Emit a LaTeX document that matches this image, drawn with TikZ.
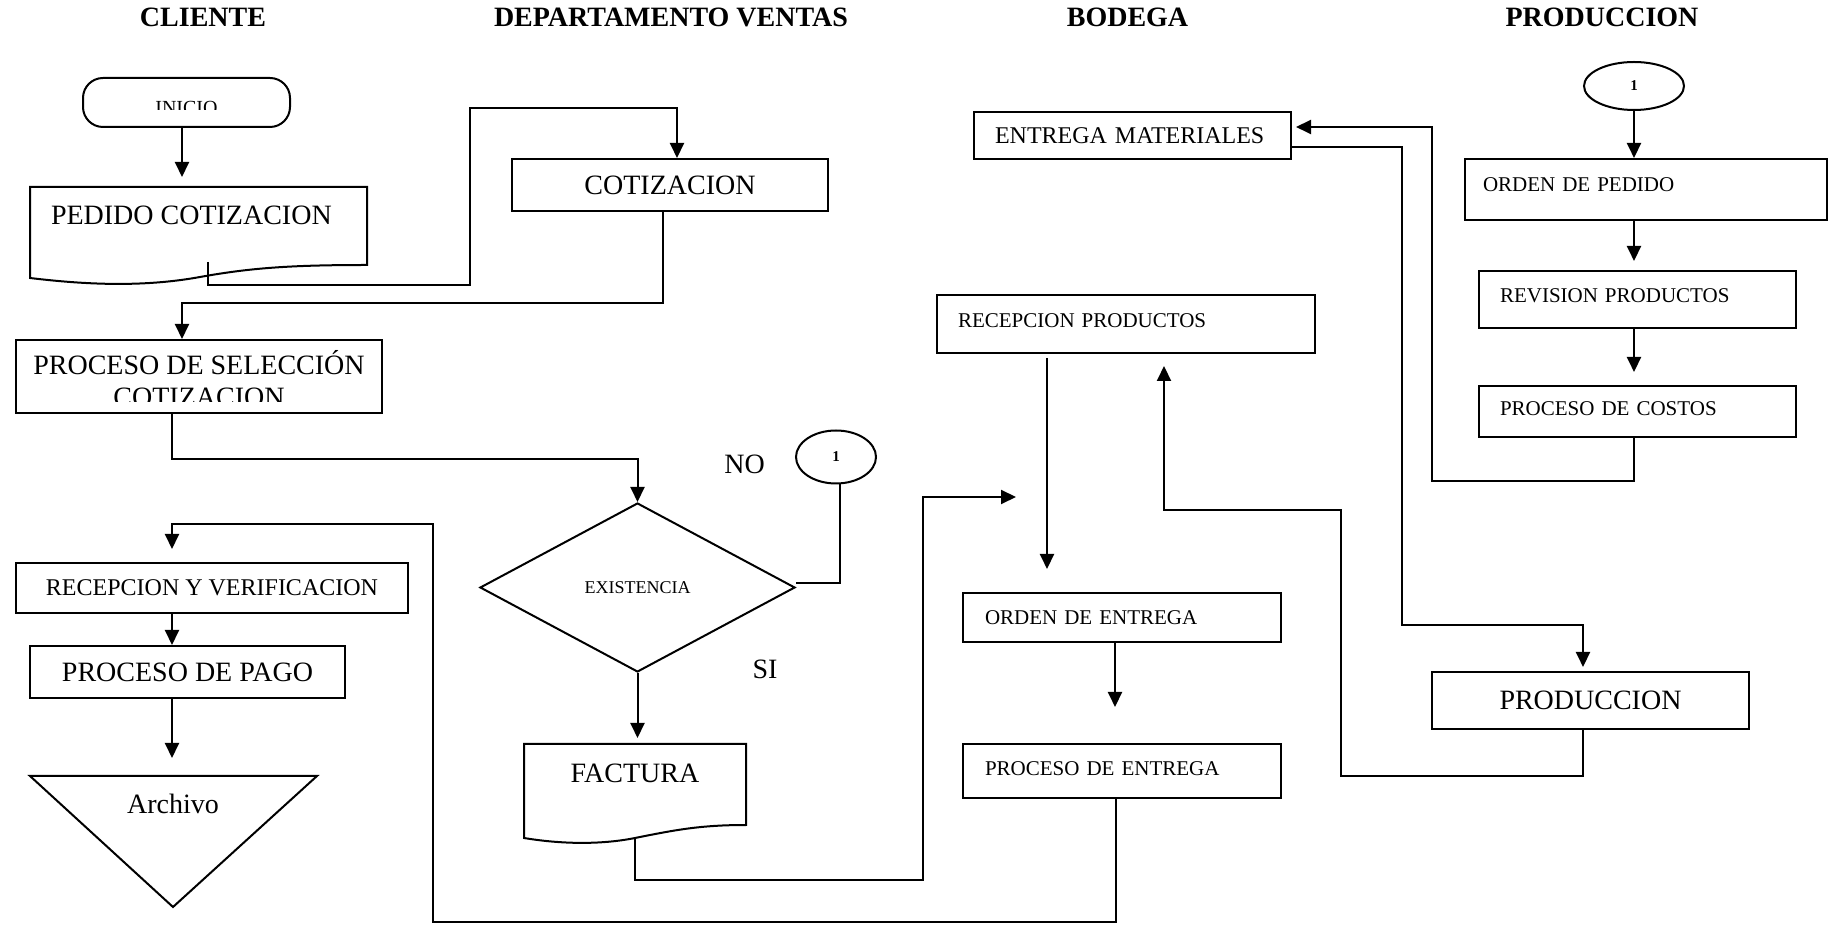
\documentclass[tikz,border=0pt]{standalone}
\usepackage{fontspec}
\setmainfont{Liberation Serif}
\usetikzlibrary{arrows.meta,shapes.geometric}

\begin{document}
\begin{tikzpicture}[x=0.5pt,y=-0.5pt,>={Triangle[width=7pt,length=7.5pt]},line width=1pt,
    lane/.style={font=\bfseries\fontsize{14}{16}\selectfont},
    box/.style={draw,rectangle,inner sep=0pt,font=\fontsize{14}{16}\selectfont},
    lbox/.style={draw,rectangle,inner xsep=10.5pt,inner ysep=0pt,align=left,font=\fontsize{10.5}{12}\selectfont},
    conn/.style={draw,ellipse,inner sep=0pt,font=\bfseries\fontsize{7.5}{9}\selectfont},
    big/.style={font=\fontsize{14}{16}\selectfont}]
    \useasboundingbox (0,0) rectangle (1831,929);

    % columnas
    \node[lane] (cliente)   at (203,17)    {CLIENTE};
    \node[lane] (ventas)    at (671,17)    {DEPARTAMENTO VENTAS};
    \node[lane] (bodega)    at (1127.5,17) {BODEGA};
    \node[lane] (prodlane)  at (1602,17)   {PRODUCCION};

    % cliente
    \node[draw,rectangle,rounded corners=10pt,minimum width=103.5pt,minimum height=24.5pt] (inicio) at (186.5,102.5) {};
    \begin{scope}
        \clip (83,78) rectangle (290,110);
        \node[anchor=base,font=\fontsize{10}{12}\selectfont] (iniciotxt) at (186.5,115) {INICIO};
    \end{scope}

    \draw (30,187) -- (367,187) -- (367,265) .. controls (290,265) and (250,268) .. (200,277)
        .. controls (140,288) and (80,284) .. (30,278) -- cycle;
    \node[big,anchor=west,inner sep=0pt] (pedido) at (50,215) {PEDIDO COTIZACION};
    \coordinate (pedin) at (182,187);
    \coordinate (pedout) at (208,262);

    \node[box,minimum width=183pt,minimum height=36.5pt] (seleccion) at (199,376.5) {};
    \begin{scope}
        \clip (16,340) rectangle (382,402);
        \node[big,anchor=base] (sel1) at (199,375) {PROCESO DE SELECCIÓN};
        \node[big,anchor=base] (sel2) at (199,406.5) {COTIZACION};
    \end{scope}

    \node[box,minimum width=196pt,minimum height=25pt,font=\fontsize{12}{14}\selectfont] (recver) at (212,588) {RECEPCION Y VERIFICACION};
    \node[box,minimum width=157.5pt,minimum height=26pt] (pago) at (187.5,672) {PROCESO DE PAGO};
    \draw (30,776) -- (317,776) -- (173,907) -- cycle;
    \node[big] (archivo) at (173,804) {Archivo};
    \coordinate (archtop) at (172,776);

    % ventas
    \node[box,minimum width=158pt,minimum height=26pt] (cotiz) at (670,185) {COTIZACION};
    \node[draw,diamond,inner sep=0pt,minimum width=157.5pt,minimum height=84.5pt,font=\fontsize{9}{11}\selectfont] (dia) at (637.5,587.5) {EXISTENCIA};
    \node[conn,minimum width=40pt,minimum height=26.5pt] (c1) at (836,457) {1};
    \node[big] (no) at (744.5,464) {NO};
    \node[big] (si) at (765,669) {SI};

    \draw (524,744) -- (746,744) -- (746,825) .. controls (700,825) and (675,830) .. (635,838)
        .. controls (600,845) and (560,844) .. (524,838) -- cycle;
    \node[big] (factura) at (635,773) {FACTURA};
    \coordinate (facin) at (635,744);
    \coordinate (facout) at (635,838);

    % bodega
    \node[lbox,minimum width=158.5pt,minimum height=23.5pt,text width=137.5pt,font=\fontsize{12}{14}\selectfont] (entmat) at (1132.5,135.5) {ENTREGA MATERIALES};
    \node[lbox,minimum width=189pt,minimum height=29pt,text width=168pt,text depth=3.5pt] (recprod) at (1126,324) {RECEPCION PRODUCTOS};
    \node[lbox,inner xsep=11pt,minimum width=159pt,minimum height=24.5pt,text width=137pt] (ordent) at (1122,617.5) {ORDEN DE ENTREGA};
    \node[lbox,inner xsep=11pt,minimum width=159pt,minimum height=27pt,text width=137pt,text depth=2pt] (procent) at (1122,771) {PROCESO DE ENTREGA};
    \coordinate (bodin) at (1016,497);

    % produccion
    \node[conn,minimum width=50pt,minimum height=24pt] (c2) at (1634,86) {1};
    \node[lbox,inner xsep=9pt,minimum width=181pt,minimum height=30.5pt,text width=163pt,text depth=5pt] (ordped) at (1646,189.5) {ORDEN DE PEDIDO};
    \node[lbox,minimum width=158.5pt,minimum height=28.5pt,text width=137.5pt,text depth=3.5pt] (revprod) at (1637.5,299.5) {REVISION PRODUCTOS};
    \node[lbox,minimum width=158.5pt,minimum height=25.5pt,text width=137.5pt,text depth=2.5pt] (costos) at (1637.5,411.5) {PROCESO DE COSTOS};
    \node[box,minimum width=158.5pt,minimum height=28.5pt] (produc) at (1590.5,700.5) {PRODUCCION};

    % conexiones
    \draw[->,shorten >=5pt] (inicio.south -| pedin) -- (pedin);
    \draw[->] (pedout) |- (470,285) |- (677,108) -- ([xshift=3.5pt]cotiz.north);
    \draw[->] ([xshift=-3.5pt]cotiz.south) |- (182,303) -- ([xshift=-8.5pt]seleccion.north);
    \draw[->] ([xshift=-13.5pt]seleccion.south) |- (637.5,459) -- (dia.north);
    \draw ([yshift=2pt]dia.east) -| ([xshift=2pt]c1.south);
    \draw[->,shorten >=3pt] (dia.south) -- (dia.south |- facin);
    \draw[->] (facout) |- (923,880) |- (bodin);

    \draw[->,shorten <=2pt,shorten >=11.5pt] ([xshift=-39.5pt]recprod.south) -- ([xshift=-37.5pt]ordent.north);
    \draw[->,shorten >=18pt] ([xshift=-3.5pt]ordent.south) -- ([xshift=-3.5pt]procent.north);
    \draw[->,shorten >=6.5pt] ([xshift=-3pt]procent.south) |- (433,922) |- (172,524) -- ([xshift=-20pt]recver.north);
    \draw[->] ([xshift=-20pt]recver.south) -- ([xshift=-7.75pt]pago.north);
    \draw[->,shorten >=9pt] ([xshift=-7.75pt]pago.south) -- (archtop);

    \draw[->] (c2.south) -- (c2.south |- ordped.north);
    \draw[->,shorten >=4.5pt] (c2.south |- ordped.south) -- (c2.south |- revprod.north);
    \draw[->,shorten >=6.5pt] (c2.south |- revprod.south) -- (c2.south |- costos.north);
    \draw[->,shorten >=2pt] ([xshift=-1.75pt]costos.south) |- (1432,481) |- ([yshift=4.25pt]entmat.east);
    \draw[->,shorten >=2pt] ([yshift=-5.75pt]entmat.east) -| (1402,625) -| ([xshift=-3.75pt]produc.north);
    \draw[->,shorten >=6pt] ([xshift=-3.75pt]produc.south) |- (1341,776) |- (1164,510) -- ([xshift=19pt]recprod.south);
\end{tikzpicture}
\end{document}
